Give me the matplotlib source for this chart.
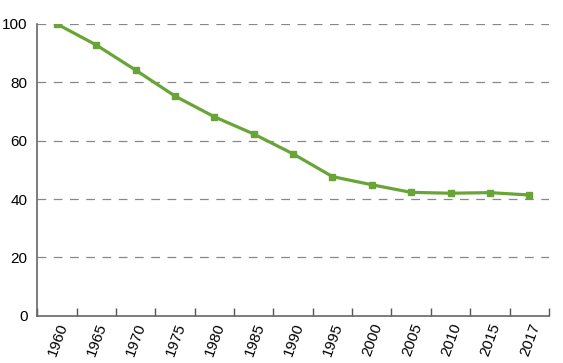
import numpy as np
import matplotlib.pyplot as plt

years = ['1960', '1965', '1970', '1975', '1980', '1985', '1990',
         '1995', '2000', '2005', '2010', '2015', '2017']
values = [100, 92.8, 84.2, 75.3, 68.2, 62.3, 55.5,
          47.7, 44.9, 42.3, 42.0, 42.2, 41.4]

green = '#68a536'

fig = plt.figure(figsize=(5.63, 3.63), dpi=100)
ax = fig.add_axes([0.066, 0.13, 0.909, 0.804])
plt.rcParams['font.family'] = ['Liberation Sans', 'DejaVu Sans']

x = np.arange(len(years))
ax.plot(x, values, color=green, lw=2.3, marker='s', ms=5, zorder=3)

ax.set_xlim(-0.5, len(years) - 0.5)
ax.set_ylim(0, 100)
ax.set_yticks(range(0, 101, 20))
ax.set_yticklabels([str(v) for v in range(0, 101, 20)],
                   fontsize=11, family='Liberation Sans')
ax.tick_params(axis='y', length=0, pad=7)

ax.set_xticks(x)
ax.set_xticklabels(years, rotation=70, ha='right', va='top',
                   rotation_mode='anchor', fontsize=11, family='Liberation Sans')
ax.tick_params(axis='x', which='major', length=0, pad=4)
ax.set_xticks(np.arange(-0.5, len(years)), minor=True)
ax.tick_params(axis='x', which='minor', direction='in', length=6,
               color='#555555', width=1)

for v in range(20, 101, 20):
    ax.axhline(v, color='#888888', lw=0.9, ls=(0, (7, 6)), zorder=1)

for s in ['top', 'right']:
    ax.spines[s].set_visible(False)
for s in ['left', 'bottom']:
    ax.spines[s].set_color('#666666')
    ax.spines[s].set_linewidth(1.2)

fig.savefig('out.png', dpi=100)
